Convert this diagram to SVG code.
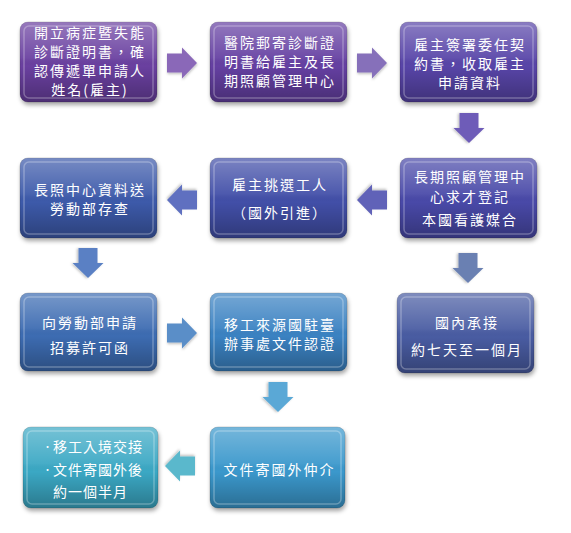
<svg xmlns="http://www.w3.org/2000/svg" xmlns:xlink="http://www.w3.org/1999/xlink" width="571" height="533" viewBox="0 0 571 533">
<style>
.t{font-family:"Noto Sans CJK TC","Noto Sans CJK SC",sans-serif;font-size:14px;fill:#fff;text-anchor:middle;letter-spacing:2px}
.ts{font-family:"Noto Sans CJK TC","Noto Sans CJK SC",sans-serif;font-size:14px;fill:#fff;letter-spacing:1px}
.bu{font-size:9px}
.g{fill:url(#gloss)}
.e{fill:none;stroke:#fff;stroke-opacity:0.28;stroke-width:1.5}
.o{stroke:#000;stroke-opacity:0.15;stroke-width:1}
</style>
<defs>
<linearGradient id="gloss" x1="0" y1="0" x2="0" y2="1">
<stop offset="0" stop-color="#fff" stop-opacity="0.3"/>
<stop offset="0.45" stop-color="#fff" stop-opacity="0.06"/>
<stop offset="0.55" stop-color="#000" stop-opacity="0"/>
<stop offset="1" stop-color="#000" stop-opacity="0.28"/>
</linearGradient>
<filter id="sh" x="-10%" y="-10%" width="120%" height="130%">
<feDropShadow dx="1" dy="3" stdDeviation="2" flood-color="#000" flood-opacity="0.35"/>
</filter>
<filter id="ash" x="-20%" y="-20%" width="140%" height="150%">
<feDropShadow dx="0.5" dy="1.5" stdDeviation="1" flood-color="#000" flood-opacity="0.25"/>
</filter>
<path id="arr" d="M-15,-9.5 H0 V-15.5 L15,0 L0,15.5 V9.5 H-15 Z"/>
</defs>
<rect width="571" height="533" fill="#fff"/>

<g id="connectors">
<use href="#arr" transform="translate(182,63)" fill="#8a68b8" filter="url(#ash)"/>
<use href="#arr" transform="translate(372,63)" fill="#8670ba" filter="url(#ash)"/>
<use href="#arr" transform="translate(469,128) rotate(90)" fill="#6e5cb8" filter="url(#ash)"/>
<use href="#arr" transform="translate(372,200) rotate(180)" fill="#6062b8" filter="url(#ash)"/>
<use href="#arr" transform="translate(182,200) rotate(180)" fill="#5e70c0" filter="url(#ash)"/>
<use href="#arr" transform="translate(88,263) rotate(90)" fill="#5a80c4" filter="url(#ash)"/>
<use href="#arr" transform="translate(182,333)" fill="#5a8ec8" filter="url(#ash)"/>
<use href="#arr" transform="translate(468,268) rotate(90)" fill="#6a80b2" filter="url(#ash)"/>
<use href="#arr" transform="translate(278,397) rotate(90)" fill="#5aa8d6" filter="url(#ash)"/>
<use href="#arr" transform="translate(180,466) rotate(180)" fill="#5ab8cc" filter="url(#ash)"/>
</g>

<g id="n1">
<rect x="20" y="22" width="137" height="80" rx="8" fill="#6b3fa0" class="o" filter="url(#sh)"/>
<rect x="20" y="22" width="137" height="80" rx="8" class="g"/>
<rect x="24" y="26" width="129" height="72" rx="5" class="e"/>
<text class="t"><tspan x="90" y="38">開立病症暨失能</tspan><tspan x="90" y="57">診斷證明書，確</tspan><tspan x="90" y="76">認傳遞單申請人</tspan><tspan x="90" y="95">姓名(雇主)</tspan></text>
</g>

<g id="n2">
<rect x="210" y="22" width="137" height="80" rx="8" fill="#6540a2" class="o" filter="url(#sh)"/>
<rect x="210" y="22" width="137" height="80" rx="8" class="g"/>
<rect x="214" y="26" width="129" height="72" rx="5" class="e"/>
<text class="t"><tspan x="280" y="48">醫院郵寄診斷證</tspan><tspan x="280" y="67">明書給雇主及長</tspan><tspan x="280" y="86">期照顧管理中心</tspan></text>
</g>

<g id="n3">
<rect x="400" y="22" width="137" height="80" rx="8" fill="#5944a8" class="o" filter="url(#sh)"/>
<rect x="400" y="22" width="137" height="80" rx="8" class="g"/>
<rect x="404" y="26" width="129" height="72" rx="5" class="e"/>
<text class="t"><tspan x="470" y="49.5">雇主簽署委任契</tspan><tspan x="470" y="68.5">約書，收取雇主</tspan><tspan x="470" y="87.5">申請資料</tspan></text>
</g>

<g id="n4">
<rect x="20" y="158" width="137" height="80" rx="8" fill="#3e5aaa" class="o" filter="url(#sh)"/>
<rect x="20" y="158" width="137" height="80" rx="8" class="g"/>
<rect x="24" y="162" width="129" height="72" rx="5" class="e"/>
<text class="t"><tspan x="90" y="194.5">長照中心資料送</tspan><tspan x="90" y="213.5">勞動部存查</tspan></text>
</g>

<g id="n5">
<rect x="210" y="158" width="137" height="80" rx="8" fill="#4250a8" class="o" filter="url(#sh)"/>
<rect x="210" y="158" width="137" height="80" rx="8" class="g"/>
<rect x="214" y="162" width="129" height="72" rx="5" class="e"/>
<text class="t"><tspan x="280" y="190">雇主挑選工人</tspan><tspan x="280" y="218">（國外引進）</tspan></text>
</g>

<g id="n6">
<rect x="400" y="158" width="137" height="80" rx="8" fill="#4a48a8" class="o" filter="url(#sh)"/>
<rect x="400" y="158" width="137" height="80" rx="8" class="g"/>
<rect x="404" y="162" width="129" height="72" rx="5" class="e"/>
<text class="t"><tspan x="470" y="182">長期照顧管理中</tspan><tspan x="470" y="202">心求才登記</tspan><tspan x="470" y="225">本國看護媒合</tspan></text>
</g>

<g id="n7">
<rect x="20" y="293" width="137" height="78" rx="8" fill="#3c6cb2" class="o" filter="url(#sh)"/>
<rect x="20" y="293" width="137" height="78" rx="8" class="g"/>
<rect x="24" y="297" width="129" height="70" rx="5" class="e"/>
<text class="t"><tspan x="90" y="328">向勞動部申請</tspan><tspan x="90" y="353">招募許可函</tspan></text>
</g>

<g id="n8">
<rect x="210" y="293" width="137" height="78" rx="8" fill="#3a82c2" class="o" filter="url(#sh)"/>
<rect x="210" y="293" width="137" height="78" rx="8" class="g"/>
<rect x="214" y="297" width="129" height="70" rx="5" class="e"/>
<text class="t"><tspan x="280" y="329.5">移工來源國駐臺</tspan><tspan x="280" y="348.5">辦事處文件認證</tspan></text>
</g>

<g id="n9">
<rect x="397" y="293" width="137" height="80" rx="8" fill="#4a5ca2" class="o" filter="url(#sh)"/>
<rect x="397" y="293" width="137" height="80" rx="8" class="g"/>
<rect x="401" y="297" width="129" height="72" rx="5" class="e"/>
<text class="t"><tspan x="467" y="328">國內承接</tspan><tspan x="467" y="355">約七天至一個月</tspan></text>
</g>

<g id="n10">
<rect x="23" y="427" width="135" height="81" rx="8" fill="#3aa8c4" class="o" filter="url(#sh)"/>
<rect x="23" y="427" width="135" height="81" rx="8" class="g"/>
<rect x="27" y="431" width="127" height="73" rx="5" class="e"/>
<text class="ts"><tspan class="bu" x="43" y="450">•</tspan><tspan x="53" y="452">移工入境交接</tspan><tspan class="bu" x="43" y="473">•</tspan><tspan x="53" y="475">文件寄國外後</tspan><tspan x="53" y="497">約一個半月</tspan></text>
</g>

<g id="n11">
<rect x="210" y="427" width="135" height="81" rx="8" fill="#3a98cc" class="o" filter="url(#sh)"/>
<rect x="210" y="427" width="135" height="81" rx="8" class="g"/>
<rect x="214" y="431" width="127" height="73" rx="5" class="e"/>
<text class="t" x="279.5" y="475">文件寄國外仲介</text>
</g>
</svg>
